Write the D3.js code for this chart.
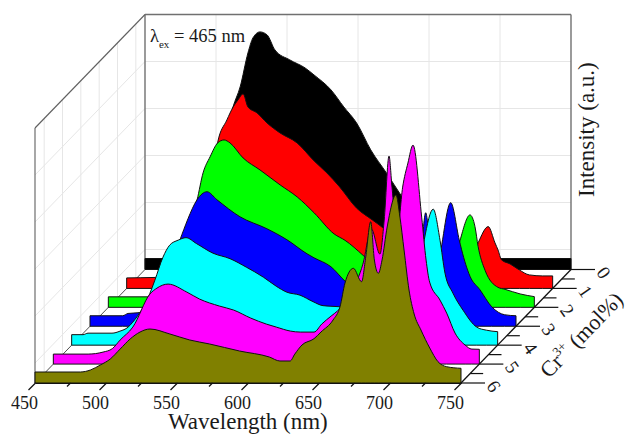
<!DOCTYPE html>
<html>
<head>
<meta charset="utf-8">
<script src="https://cdn.jsdelivr.net/npm/d3@7"></script>
<style>
  body { margin: 0; background: #fff; }
  svg { display: block; }
  text { font-family: "Liberation Serif", serif; fill: #1a1a1a; }
</style>
</head>
<body>
<div class="container"></div>
<script>
// spectra: [wavelength nm, intensity a.u.]
const spec0 = [[450,11],[480,11],[485,15],[495,50],[505,120],[512,162.6],[517,182.6],[522.5,216.6],[526,231.6],[531,237.6],[536,234.6],[541.5,219.6],[552,209.6],[562.7,201.6],[569,194.6],[581,179.6],[590,162.6],[599,146.6],[609,119.6],[620,96.6],[631,72.6],[650,30],[670,14],[690,11],[750,11]];
const spec1 = [[450,10.5],[490,12],[500,30],[508,80],[514,145.5],[520.6,168.5],[525,181.5],[528.4,188.5],[532,194.5],[535.4,181.5],[541.8,175.5],[548.8,165.5],[558,155.5],[570,145.5],[582,127.5],[591,115.5],[600,101.5],[611.8,80.5],[623,68.5],[630.5,60.5],[650,30],[670,18],[680,25],[686,35],[693,30],[697.6,45.8],[704.6,61.8],[709.4,45.5],[711.5,38.5],[714,28.5],[720,24.5],[726.5,18.5],[733.6,13.5],[743,12.5],[750,12.5]];
const spec2 = [[450,10.5],[480,10.5],[490,14],[500,40],[508,85],[512.5,107.4],[516.7,134.4],[521.6,150.4],[527,164.4],[531.5,167.4],[535.7,164.4],[544.9,149.4],[556.8,137.4],[571,122.4],[583,110.4],[595,94.4],[609,73.4],[616.7,67],[629.4,52],[640,38],[655,25],[670,24],[686,50],[693,40],[697.7,67],[704.7,92.4],[708.2,80.7],[710.4,61],[715.3,37],[724.4,20],[729.4,18],[740,13.4],[750,10.7]];
const spec3 = [[450,10.5],[473,10.5],[476.8,12.8],[483.8,13.5],[490,17],[500,35],[508,62],[513.4,86.5],[516,96.5],[519,107.5],[525.4,126.5],[532.4,134.5],[539.4,126.5],[555.6,109.5],[574.6,97.5],[588.7,86.5],[602.8,72.5],[607.7,68.5],[619.7,59.5],[630,44.5],[650,28],[670,30],[680,42],[683,70],[686.4,113.5],[690,75],[694,62],[704,123.6],[710,86.5],[711.7,76.5],[717.6,50],[724.6,36.5],[732.9,19.5],[742,11.5],[750,10.5]];
const spec4 = [[450,10.5],[458,10.5],[461.5,12],[478.4,12],[484,14],[489.7,18],[493,23],[505,51.5],[508.6,65],[514.3,88],[519,100],[525,105],[530.5,107.5],[538,101.5],[549.5,92],[561.5,86.5],[573,78],[585,68],[594,59],[601.5,53],[610.8,50],[620,43.5],[627,39.5],[638.2,38.5],[650,37],[660,40],[674,60],[680,55],[686,90],[692,75],[704.6,136],[709.4,105],[712.9,72],[718.5,52],[725.6,35],[735.3,18],[742,15],[750,13.5]];
const spec5 = [[450,10],[474.5,10],[485,12],[491.5,15.4],[497,24],[506,37],[518,70],[523,76],[530.8,80],[544,72],[553,65],[567,58],[577,54],[589,46],[600,40],[607,37],[617,33],[624,32],[633.6,32],[639,40],[645.6,48],[650,53],[660,72],[668,100],[674,135],[680,110],[683,144],[686.4,208],[688.5,177],[692,130],[696,177],[699.7,201],[703.3,219],[709.4,147],[712.5,104],[715,82],[722.3,64],[727,51],[732.9,31],[740,19],[744.7,15],[750,14.8]];
const spec6 = [[450,11],[482,11],[489,13],[496,18],[503,24],[510,34],[517,44],[524,51],[531,54],[545,49],[559,43],[573,39],[594,32],[615,26],[622.5,22],[629.6,22],[633,29],[638,38],[646.5,44.3],[651.4,51],[659.9,63],[664.8,76.3],[668.3,100],[674.2,114.7],[680,101.3],[682.9,126],[686.4,161.3],[689,123],[691.8,109.7],[694.4,123],[698,156],[704.2,188],[707,166],[709.9,133],[713.4,93],[717,69],[721.8,53],[728,35],[733.8,21.3],[739.9,16.3],[750,14.7]];

const spectra = [spec0, spec1, spec2, spec3, spec4, spec5, spec6];
const doses = [0, 1, 2, 3, 4, 5, 6];
const colors = ["#000000", "#ff0000", "#00ff00", "#0000ff", "#00ffff", "#ff00ff", "#808000"];

const waveMajor = [450, 500, 550, 600, 650, 700, 750];
const waveMinor = [475, 525, 575, 625, 675, 725];
const waveGrid = [500, 550, 600, 650, 700];
const doseMinor = [0.5, 1.5, 2.5, 3.5, 4.5, 5.5];
const intensityGrid = [20, 67, 114, 161, 208];

const width = 627;
const height = 434;
const originX = 35;
const originY = 383;

const x = d3.scaleLinear().domain([450, 750]).range([originX, 461]);
const y = d3.scaleLinear().domain([0, 255]).range([0, -255]);
// depth axis is an oblique shift of the whole front plane
const shiftX = d3.scaleLinear().domain([6, 0]).range([0, 110]);
const shiftY = d3.scaleLinear().domain([6, 0]).range([0, -113.5]);

const px = (w, z) => x(w) + shiftX(z);
const py = (v, z) => originY + y(v) + shiftY(z);

const svg = d3.select(".container")
  .append("svg")
  .attr("width", width)
  .attr("height", height);

const seg = (x1, y1, x2, y2) => ({x1, y1, x2, y2});

const drawSegs = (data, color, w) => svg.append("g")
  .selectAll("line")
  .data(data)
  .join("line")
    .attr("x1", d => d.x1).attr("y1", d => d.y1)
    .attr("x2", d => d.x2).attr("y2", d => d.y2)
    .attr("stroke", color)
    .attr("stroke-width", w);

// grid on both walls
const gridColor = "#e6e6e6";
drawSegs(waveGrid.map(w => seg(px(w, 0), py(0, 0), px(w, 0), py(255, 0))), gridColor, 1);
drawSegs(intensityGrid.map(v => seg(px(450, 0), py(v, 0), px(750, 0), py(v, 0))), gridColor, 1);
drawSegs(doseMinor.map(z => seg(px(450, z), py(0, z), px(450, z), py(255, z))), gridColor, 1);
drawSegs(intensityGrid.map(v => seg(px(450, 6), py(v, 6), px(450, 0), py(v, 0))), gridColor, 1);

// wall frame
drawSegs([
  seg(px(450, 0), py(255, 0), px(750, 0), py(255, 0)),
  seg(px(750, 0), py(255, 0), px(750, 0), py(0, 0)),
  seg(px(450, 0), py(255, 0), px(450, 0), py(0, 0))
], "#707070", 1.4);
drawSegs([
  seg(px(450, 6), py(255, 6), px(450, 0), py(255, 0)),
  seg(px(450, 6), py(255, 6), px(450, 6), py(0, 6))
], "#606060", 1.1);
drawSegs([seg(px(450, 6), py(0, 6), px(450, 0), py(0, 0))], "#505050", 1);

// ribbons back to front
doses.forEach(z => {
  const area = d3.area()
    .x(d => px(d[0], z))
    .y0(py(0, z))
    .y1(d => py(d[1], z))
    .curve(d3.curveMonotoneX);
  const points = spectra[z];
  svg.append("path")
    .attr("d", area(points))
    .attr("fill", colors[z])
    .attr("stroke", "#111")
    .attr("stroke-width", 1)
    .attr("stroke-linejoin", "round");
});

// wavelength axis
const axis = svg.append("g")
  .attr("transform", `translate(0,${originY})`)
  .call(d3.axisBottom(x).tickValues(waveMajor).tickFormat(d3.format("d")).tickSizeOuter(0));
axis.select(".domain").attr("stroke", "#111").attr("stroke-width", 1.2);
axis.selectAll("line")
  .attr("x2", -7).attr("y2", 7)
  .attr("stroke", "#111").attr("stroke-width", 1.2);
axis.selectAll("text")
  .attr("x", -11).attr("y", 20)
  .attr("dy", "0.32em")
  .attr("fill", "#1a1a1a")
  .style("font-size", "18px")
  .style("font-family", '"Liberation Serif", serif');
axis.append("g")
  .selectAll("line")
  .data(waveMinor)
  .join("line")
    .attr("x1", d => x(d)).attr("y1", 0)
    .attr("x2", d => x(d) - 3.5).attr("y2", 3.5)
    .attr("stroke", "#111").attr("stroke-width", 1.2);

// depth axis
drawSegs([seg(px(750, 6), py(0, 6), px(750, 0), py(0, 0))], "#111", 1.3);
drawSegs(doses.map(z => seg(px(750, z), py(0, z), px(750, z) + 24, py(0, z))), "#111", 1.2);
drawSegs(doseMinor.map(z => seg(px(750, z), py(0, z), px(750, z) + 13, py(0, z))), "#111", 1.2);

svg.append("g")
  .selectAll("text")
  .data(doses)
  .join("text")
    .attr("text-anchor", "middle")
    .attr("dy", "0.35em")
    .attr("transform", d => `translate(${px(750, d) + 33},${py(0, d) + 3}) rotate(55)`)
    .style("font-size", "19px")
    .text(d => d);

// titles
svg.append("text")
  .attr("x", 168).attr("y", 429)
  .style("font-size", "23px")
  .text("Wavelength (nm)");

svg.append("text")
  .attr("transform", "translate(594,197) rotate(-90)")
  .style("font-size", "23px")
  .text("Intensity (a.u.)");

const depthTitle = svg.append("text")
  .attr("transform", "translate(549,379) rotate(-46)")
  .style("font-size", "22px");
depthTitle.append("tspan").text("Cr");
depthTitle.append("tspan").attr("dy", -9).style("font-size", "13px").text("3+");
depthTitle.append("tspan").attr("dy", 9).text(" (mol%)");

const note = svg.append("text")
  .attr("x", 150).attr("y", 42)
  .style("font-size", "18.5px");
note.append("tspan").text("λ");
note.append("tspan").attr("dy", 6).style("font-size", "11px").text("ex");
note.append("tspan").attr("dy", -6).text(" = 465 nm");
</script>
</body>
</html>
